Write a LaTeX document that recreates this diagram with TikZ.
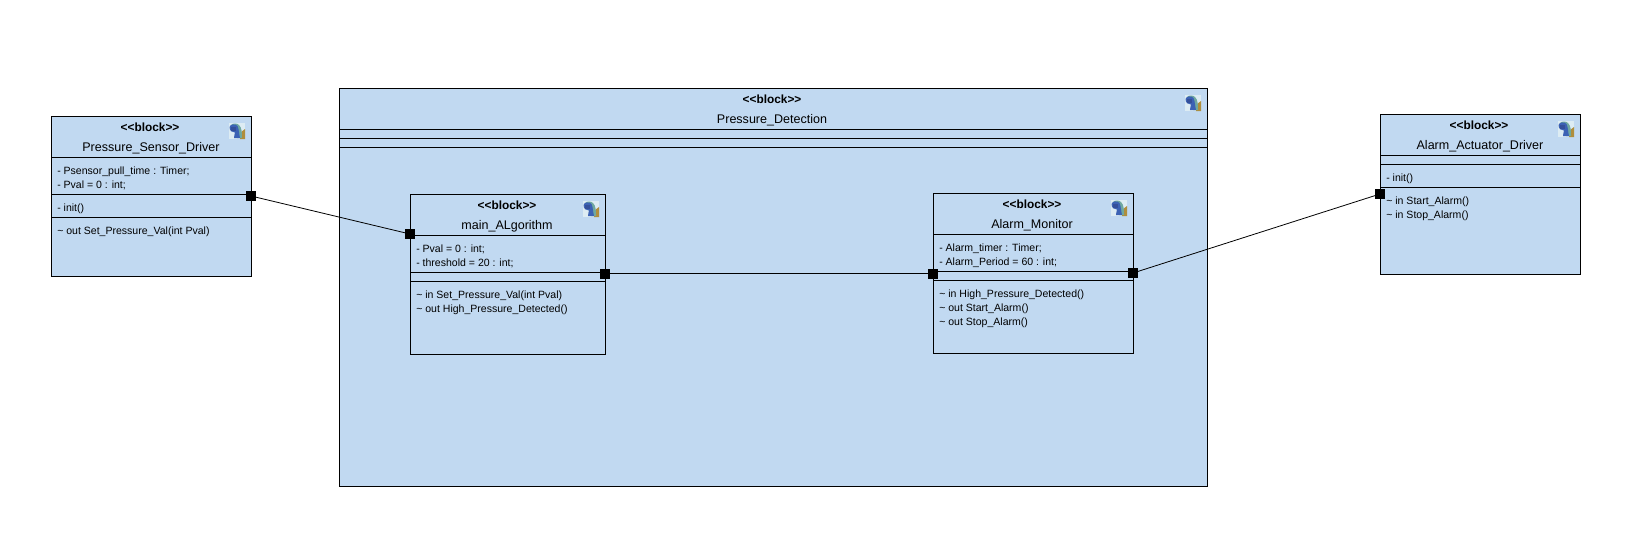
\documentclass[tikz,border=0pt]{standalone}
\usepackage{fontspec}
\setmainfont{Liberation Sans}
\definecolor{blockfill}{HTML}{C1D9F1}
\definecolor{icbg}{HTML}{DDECF3}
\definecolor{icblue}{HTML}{3C62B4}
\definecolor{icdark}{HTML}{34509A}
\definecolor{ictan}{HTML}{B08E3C}
\definecolor{icgreen}{HTML}{6FA8A0}
\def\px{0.75pt}
\tikzset{
  blockbox/.style={draw=black,fill=blockfill,line width=0.75pt,rectangle,inner sep=0pt,outer sep=0pt},
  sep/.style={line width=0.75pt,draw=black},
  port/.style={fill=black,draw=none,rectangle,inner sep=0pt,outer sep=0pt,minimum size=7.5pt},
  wire/.style={line width=0.6pt,draw=black},
  stereo/.style={font=\fontsize{8.9pt}{10pt}\selectfont\bfseries,anchor=base,inner sep=0pt},
  title/.style={font=\fontsize{9.4pt}{11pt}\selectfont,anchor=base,inner sep=0pt},
  member/.style={font=\fontsize{7.9pt}{9pt}\selectfont,anchor=base west,inner sep=0pt},
  icon/.pic={
    \fill[icbg] (0,0) rectangle (16,16);
    \fill[ictan] (11,10) .. controls (13,8) and (15,7) .. (16,6) -- (16,16) -- (11,16) -- cycle;
    \fill[icgreen] (2,2) .. controls (4,0) and (8,0) .. (10,2) .. controls (13,5) and (13,10) .. (13,15) -- (8,15) -- (8,10) -- cycle;
    \fill[icblue] (0.5,4) .. controls (1,1) and (7,0.5) .. (8.5,3) .. controls (10,6) and (10,11) .. (11,15) -- (5,15) .. controls (5,12) and (6,11) .. (6,9.5) .. controls (3,9.5) and (0.5,8) .. (0.5,4) -- cycle;
    \fill[icdark] (2,3.5) rectangle (6.5,7.5);
  }
}
\begin{document}
\begin{tikzpicture}[x=0.75pt,y=-0.75pt]
\useasboundingbox (0,0) rectangle (1635,533);
% outer block
\node[blockbox,minimum width=868*\px,minimum height=398*\px] (detect) at (773.5,287.5) {};
\draw[sep] (339.5,129.5) -- (1207.5,129.5) (339.5,138.5) -- (1207.5,138.5) (339.5,147.5) -- (1207.5,147.5);
\node[stereo] (detectS) at (772,103) {<{}<block>{}>};
\node[title] (detectT) at (772,123) {Pressure\_Detection};
\pic at (1185,95) {icon};
% sensor
\node[blockbox,minimum width=200*\px,minimum height=160*\px] (sensor) at (151.5,196.5) {};
\draw[sep] (51.5,157.5) -- (251.5,157.5) (51.5,194.5) -- (251.5,194.5) (51.5,217.5) -- (251.5,217.5);
\node[stereo] (sensorS) at (150,131) {<{}<block>{}>};
\node[title] (sensorT) at (151,151) {Pressure\_Sensor\_Driver};
\pic at (229,123) {icon};
\node[member] (sensorA) at (57,174) {- Psensor\_pull\_time : Timer;};
\node[member] (sensorB) at (57,188) {- Pval = 0 : int;};
\node[member] (sensorC) at (57,211) {- init()};
\node[member] (sensorD) at (57,234) {\textasciitilde{} out Set\_Pressure\_Val(int Pval)};
% main
\node[blockbox,minimum width=195*\px,minimum height=160*\px] (main) at (508,274.5) {};
\draw[sep] (410.5,235.5) -- (605.5,235.5) (410.5,272.5) -- (605.5,272.5) (410.5,281.5) -- (605.5,281.5);
\node[stereo] (mainS) at (507,209) {<{}<block>{}>};
\node[title] (mainT) at (507,229) {main\_ALgorithm};
\pic at (583,201) {icon};
\node[member] (mainA) at (416,252) {- Pval = 0 : int;};
\node[member] (mainB) at (416,266) {- threshold = 20 : int;};
\node[member] (mainC) at (416,298) {\textasciitilde{} in Set\_Pressure\_Val(int Pval)};
\node[member] (mainD) at (416,312) {\textasciitilde{} out High\_Pressure\_Detected()};
% monitor
\node[blockbox,minimum width=200*\px,minimum height=160*\px] (monitor) at (1033.5,273.5) {};
\draw[sep] (933.5,234.5) -- (1133.5,234.5) (933.5,271.5) -- (1133.5,271.5) (933.5,280.5) -- (1133.5,280.5);
\node[stereo] (monitorS) at (1032,208) {<{}<block>{}>};
\node[title] (monitorT) at (1032,228) {Alarm\_Monitor};
\pic at (1111,200) {icon};
\node[member] (monA) at (939,251) {- Alarm\_timer : Timer;};
\node[member] (monB) at (939,265) {- Alarm\_Period = 60 : int;};
\node[member] (monC) at (939,297) {\textasciitilde{} in High\_Pressure\_Detected()};
\node[member] (monD) at (939,311) {\textasciitilde{} out Start\_Alarm()};
\node[member] (monE) at (939,325) {\textasciitilde{} out Stop\_Alarm()};
% actuator
\node[blockbox,minimum width=200*\px,minimum height=160*\px] (actuator) at (1480.5,194.5) {};
\draw[sep] (1380.5,155.5) -- (1580.5,155.5) (1380.5,164.5) -- (1580.5,164.5) (1380.5,187.5) -- (1580.5,187.5);
\node[stereo] (actS) at (1479,129) {<{}<block>{}>};
\node[title] (actT) at (1480,149) {Alarm\_Actuator\_Driver};
\pic at (1558,121) {icon};
\node[member] (actA) at (1386,181) {- init()};
\node[member] (actB) at (1386,204) {\textasciitilde{} in Start\_Alarm()};
\node[member] (actC) at (1386,218) {\textasciitilde{} in Stop\_Alarm()};
% ports
\node[port] (p1) at (251,196) {};
\node[port] (p2) at (410,234) {};
\node[port] (p3) at (605,273.5) {};
\node[port] (p4) at (933,273.5) {};
\node[port] (p5) at (1133,273) {};
\node[port] (p6) at (1380,194) {};
\draw[wire] (p1) -- (p2);
\draw[wire] (p3) -- (p4);
\draw[wire] (p5) -- (p6);
\end{tikzpicture}
\end{document}
